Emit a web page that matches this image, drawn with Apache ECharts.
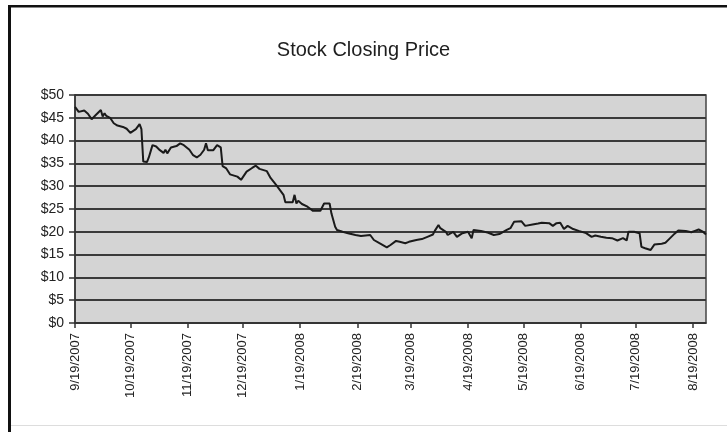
<!DOCTYPE html>
<html>
<head>
<meta charset="utf-8">
<script src="https://cdn.jsdelivr.net/npm/echarts@6/dist/echarts.min.js"></script>
<style>
html,body{margin:0;padding:0;background:#fff;}
#chart{width:727px;height:432px;}
</style>
</head>
<body>
<div id="chart"></div>
<script>
const titleText = 'Stock Closing Price';

const dates = [
'9/19/2007','9/21/2007','9/24/2007','9/26/2007','9/28/2007','9/30/2007','10/3/2007','10/4/2007','10/5/2007','10/6/2007',
'10/8/2007','10/10/2007','10/12/2007','10/15/2007','10/17/2007','10/19/2007','10/22/2007','10/24/2007','10/25/2007','10/26/2007',
'10/28/2007','10/29/2007','10/31/2007','11/2/2007','11/4/2007','11/6/2007','11/7/2007','11/8/2007','11/10/2007','11/11/2007',
'11/13/2007','11/15/2007','11/17/2007','11/20/2007','11/22/2007','11/24/2007','11/26/2007','11/28/2007','11/29/2007','11/30/2007',
'12/3/2007','12/5/2007','12/7/2007','12/8/2007','12/10/2007','12/12/2007','12/13/2007','12/16/2007','12/18/2007','12/21/2007',
'12/24/2007','12/26/2007','12/28/2007','1/1/2008','1/3/2008','1/6/2008','1/8/2008','1/10/2008','1/11/2008','1/13/2008',
'1/15/2008','1/16/2008','1/17/2008','1/18/2008','1/20/2008','1/23/2008','1/26/2008','1/30/2008','2/1/2008','2/4/2008',
'2/5/2008','2/7/2008','2/8/2008','2/11/2008','2/14/2008','2/18/2008','2/21/2008','2/26/2008','2/28/2008','3/2/2008',
'3/6/2008','3/8/2008','3/11/2008','3/13/2008','3/16/2008','3/18/2008','3/22/2008','3/25/2008','3/28/2008','3/31/2008',
'4/1/2008','4/3/2008','4/4/2008','4/7/2008','4/8/2008','4/11/2008','4/13/2008','4/16/2008','4/19/2008','4/21/2008',
'4/22/2008','4/26/2008','4/30/2008','5/3/2008','5/6/2008','5/10/2008','5/12/2008','5/14/2008','5/18/2008','5/20/2008',
'5/24/2008','5/27/2008','5/29/2008','6/2/2008','6/4/2008','6/6/2008','6/8/2008','6/10/2008','6/12/2008','6/15/2008',
'6/18/2008','6/22/2008','6/25/2008','6/27/2008','6/30/2008','7/3/2008','7/6/2008','7/9/2008','7/12/2008','7/14/2008',
'7/15/2008','7/18/2008','7/21/2008','7/22/2008','7/24/2008','7/27/2008','7/29/2008','8/2/2008','8/4/2008','8/6/2008',
'8/9/2008','8/11/2008','8/15/2008','8/18/2008','8/20/2008','8/22/2008','8/24/2008','8/26/2008'
];

const prices = [
47.4,46.3,46.6,45.9,44.7,45.5,46.7,45.3,46.0,45.4,
45.0,43.8,43.3,43.0,42.6,41.7,42.5,43.6,42.5,35.4,
35.3,36.3,39.0,38.7,37.9,37.3,38.0,37.2,38.5,38.8,
38.8,39.4,39.0,38.0,36.8,36.3,36.9,38.0,39.4,37.9,
37.9,39.0,38.5,34.4,33.9,32.6,33.0,32.1,31.4,33.2,
34.0,34.5,33.8,33.3,31.8,30.3,29.2,28.1,26.5,26.5,
26.5,28.1,26.2,26.8,26.1,25.5,24.6,24.6,26.2,26.2,
24.0,21.1,20.4,20.0,19.7,19.3,19.1,19.3,18.2,17.5,
16.6,17.1,18.0,17.8,17.5,17.8,18.2,18.4,18.9,19.4,
20.2,21.5,20.8,20.0,19.3,20.0,18.9,19.7,20.0,18.6,
20.4,20.2,19.8,19.3,19.5,20.4,20.8,22.2,22.3,21.3,
21.6,21.8,22.0,21.9,21.3,21.9,22.0,20.6,21.3,20.6,
20.2,19.7,18.9,19.2,18.9,18.7,18.6,18.1,18.6,18.1,
20.0,20.0,19.7,16.7,16.4,16.0,17.2,17.4,17.6,18.4,
19.6,20.3,20.2,19.9,20.2,20.5,20.1,19.4
];

const xTickLabels = ['9/19/2007','10/19/2007','11/19/2007','12/19/2007','1/19/2008','2/19/2008',
  '3/19/2008','4/19/2008','5/19/2008','6/19/2008','7/19/2008','8/19/2008'];
const xStart = '9/19/2007';
const xEnd = '8/26/2008';

function ts(s){ const p = s.split('/').map(Number); return new Date(p[2], p[0]-1, p[1]).getTime(); }
function fmt(v){ const d = new Date(v); return (d.getMonth()+1)+'/'+d.getDate()+'/'+d.getFullYear(); }

const tickValues = xTickLabels.map(ts);
const seriesData = dates.map((d,i)=>[ts(d), prices[i]]);

const chart = echarts.init(document.getElementById('chart'), null, {renderer:'canvas'});
const FONT = "'Liberation Sans', Arial, sans-serif";
chart.setOption({
  animation:false,
  backgroundColor:'#ffffff',
  title:{
    text:titleText, left:'center', top:35,
    textStyle:{fontFamily:FONT, fontSize:20, fontWeight:'normal', color:'#1e1e1e'}
  },
  graphic:[
    {type:'rect', left:8, top:5, shape:{width:3, height:427}, style:{fill:'#111'}, z:100},
    {type:'rect', left:8, top:5, shape:{width:719, height:2.5}, style:{fill:'#111'}, z:100},
    {type:'rect', left:11, top:425, shape:{width:716, height:1}, style:{fill:'#dddddd'}, z:100}
  ],
  grid:{
    left:75, right:21, top:95, bottom:109,
    show:true, backgroundColor:'#d4d4d4', borderColor:'#444', borderWidth:1.5
  },
  xAxis:{
    type:'value',
    min:ts(xStart), max:ts(xEnd),
    axisLine:{show:true, lineStyle:{color:'#333', width:1.5}},
    axisTick:{show:true, length:5, customValues:tickValues, lineStyle:{color:'#333', width:1.5}},
    axisLabel:{
      customValues:tickValues, rotate:90, margin:10,
      formatter:(v)=>fmt(v),
      fontFamily:FONT, fontSize:13, color:'#222'
    },
    splitLine:{show:false}
  },
  yAxis:{
    type:'value', min:0, max:50, interval:5,
    axisLine:{show:true, lineStyle:{color:'#333', width:1.5}},
    axisTick:{show:true, length:6, lineStyle:{color:'#333', width:1.5}},
    axisLabel:{formatter:(v)=>'$'+v, fontFamily:FONT, fontSize:14, color:'#222', margin:11},
    splitLine:{show:true, lineStyle:{color:'#3a3a3a', width:2}}
  },
  series:[{
    type:'line', data:seriesData, showSymbol:false, symbol:'none',
    lineStyle:{color:'#1a1a1a', width:2}
  }]
});
</script>
</body>
</html>
